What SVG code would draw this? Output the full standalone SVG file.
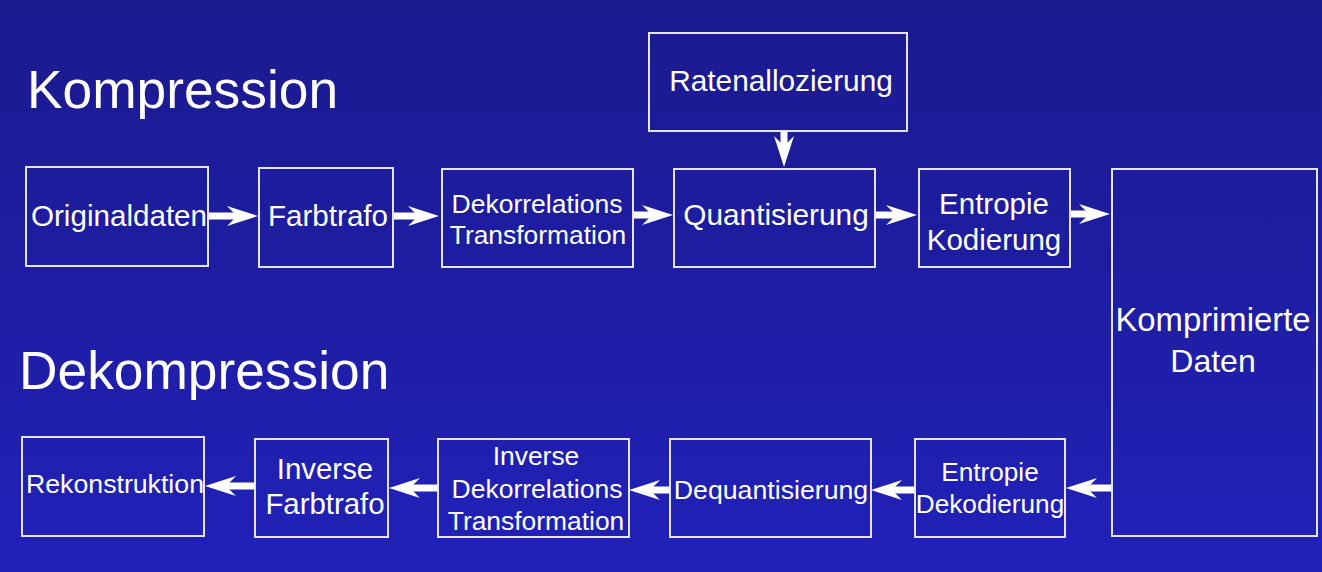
<svg xmlns="http://www.w3.org/2000/svg" width="1322" height="572" viewBox="0 0 1322 572">
<defs>
<linearGradient id="bg" x1="0" y1="0" x2="0" y2="1">
<stop offset="0" stop-color="#1b1a8e"/>
<stop offset="1" stop-color="#2121b9"/>
</linearGradient>
<marker id="ah" markerUnits="userSpaceOnUse" markerWidth="32" markerHeight="22" viewBox="0 0 32 22" refX="12" refY="11" orient="auto">
<path d="M31,11 L0,1 L10,11 L0,21 Z" fill="#ffffff"/>
</marker>
</defs>
<style>
.box{fill:none;stroke:#e4e4f2;stroke-width:2}
.t{font-family:"Liberation Sans",Arial,sans-serif;fill:#ffffff;text-anchor:middle}
.title{font-family:"Liberation Sans",Arial,sans-serif;fill:#ffffff;font-size:53.3px}
.c{fill:none;stroke:#ffffff;stroke-width:7;marker-end:url(#ah)}
</style>
<rect width="1322" height="572" fill="url(#bg)"/>
<text class="title" x="27" y="108">Kompression</text>
<text class="title" x="19" y="389">Dekompression</text>
<g id="connectors">
<path class="c" d="M208,216 L239,216"/>
<path class="c" d="M393,216 L420,216"/>
<path class="c" d="M633,215 L654,215"/>
<path class="c" d="M875,215 L898,215"/>
<path class="c" d="M1070,214 L1091,214"/>
<path class="c" d="M784,131 L784,148"/>
<path class="c" d="M1112,488 L1085,488"/>
<path class="c" d="M915,490 L890,490"/>
<path class="c" d="M670,490 L648,490"/>
<path class="c" d="M438,488 L408,488"/>
<path class="c" d="M255,486 L224,486"/>
</g>
<g id="originaldaten">
<rect class="box" x="26" y="167" width="182" height="99"/>
<text class="t" x="119" y="226" font-size="29.6">Originaldaten</text>
</g>
<g id="farbtrafo">
<rect class="box" x="259" y="168" width="134" height="99"/>
<text class="t" x="328" y="226" font-size="29.6">Farbtrafo</text>
</g>
<g id="dekorrelation">
<rect class="box" x="442" y="169" width="191" height="98"/>
<text class="t" x="537" y="213" font-size="26.5">Dekorrelations</text>
<text class="t" x="538" y="244" font-size="26.4">Transformation</text>
</g>
<g id="ratenallozierung">
<rect class="box" x="649" y="33" width="258" height="98"/>
<text class="t" x="781" y="91" font-size="29.8">Ratenallozierung</text>
</g>
<g id="quantisierung">
<rect class="box" x="674" y="169" width="201" height="98"/>
<text class="t" x="776" y="225" font-size="29.8">Quantisierung</text>
</g>
<g id="entropie-kodierung">
<rect class="box" x="919" y="169" width="151" height="98"/>
<text class="t" x="994" y="214" font-size="29.5">Entropie</text>
<text class="t" x="994" y="250" font-size="29.5">Kodierung</text>
</g>
<g id="komprimierte-daten">
<rect class="box" x="1112" y="169" width="205" height="367"/>
<text class="t" x="1213" y="331" font-size="32.8">Komprimierte</text>
<text class="t" x="1213" y="372" font-size="32">Daten</text>
</g>
<g id="entropie-dekodierung">
<rect class="box" x="915" y="439" width="150" height="98"/>
<text class="t" x="990" y="481" font-size="26.2">Entropie</text>
<text class="t" x="990" y="513" font-size="26.2">Dekodierung</text>
</g>
<g id="dequantisierung">
<rect class="box" x="670" y="439" width="201" height="98"/>
<text class="t" x="771" y="499" font-size="26.7">Dequantisierung</text>
</g>
<g id="inverse-dekorrelation">
<rect class="box" x="438" y="439" width="191" height="98"/>
<text class="t" x="536" y="465" font-size="26.4">Inverse</text>
<text class="t" x="537" y="498" font-size="26.5">Dekorrelations</text>
<text class="t" x="536" y="530" font-size="26.4">Transformation</text>
</g>
<g id="inverse-farbtrafo">
<rect class="box" x="255" y="439" width="133" height="98"/>
<text class="t" x="325" y="479" font-size="29.4">Inverse</text>
<text class="t" x="325" y="514" font-size="29.4">Farbtrafo</text>
</g>
<g id="rekonstruktion">
<rect class="box" x="22" y="437" width="182" height="99"/>
<text class="t" x="115" y="493" font-size="26.7">Rekonstruktion</text>
</g>
</svg>
